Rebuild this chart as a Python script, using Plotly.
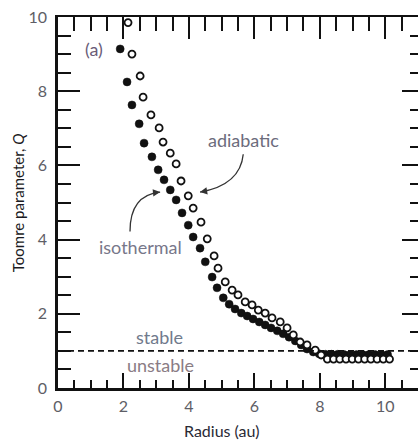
import plotly.graph_objects as go

# Radius (au) and Toomre Q for the isothermal run (filled symbols)
iso_r = [1.90, 2.11, 2.26, 2.48, 2.63, 2.87, 3.06, 3.24, 3.43, 3.61, 3.79, 3.98,
         4.13, 4.34, 4.50, 4.71, 4.86, 5.05, 5.23, 5.41, 5.60, 5.78, 5.96, 6.15,
         6.33, 6.51, 6.70, 6.88, 7.06, 7.25, 7.43, 7.61, 7.80, 7.98, 8.17, 8.36,
         8.55, 8.74, 8.93, 9.12, 9.31, 9.50, 9.69, 9.88, 10.07]
iso_q = [9.14, 8.25, 7.63, 7.12, 6.60, 6.23, 5.88, 5.61, 5.34, 5.07, 4.72, 4.39,
         4.07, 3.77, 3.40, 2.99, 2.70, 2.43, 2.26, 2.13, 2.02, 1.94, 1.86, 1.78,
         1.70, 1.62, 1.54, 1.46, 1.37, 1.27, 1.16, 1.05, 0.97, 0.92, 0.91, 0.91,
         0.91, 0.90, 0.90, 0.90, 0.90, 0.90, 0.90, 0.90, 0.90]

# Radius (au) and Toomre Q for the adiabatic run (open symbols)
adi_r = [2.14, 2.26, 2.51, 2.60, 2.84, 3.09, 3.21, 3.43, 3.61, 3.76, 3.98, 4.13,
         4.37, 4.56, 4.77, 4.89, 5.11, 5.32, 5.50, 5.72, 5.93, 6.12, 6.33, 6.54,
         6.79, 7.00, 7.19, 7.40, 7.61, 7.86, 8.04, 8.23, 8.42, 8.61, 8.80, 8.99,
         9.18, 9.37, 9.56, 9.75, 9.94, 10.13]
adi_q = [9.85, 9.00, 8.41, 7.84, 7.36, 7.01, 6.63, 6.33, 6.04, 5.58, 5.18, 4.85,
         4.47, 4.02, 3.56, 3.23, 2.86, 2.64, 2.51, 2.32, 2.24, 2.10, 2.02, 1.89,
         1.78, 1.62, 1.43, 1.24, 1.16, 1.02, 0.89, 0.78, 0.78, 0.78, 0.78, 0.78,
         0.78, 0.78, 0.78, 0.78, 0.78, 0.78]

q_crit = 1.0
x_range = [0, 11]
y_range = [0, 10]

FONT = "Lato"
GRAY = "#5e5e66"

fig = go.Figure()

fig.add_trace(go.Scatter(
    x=iso_r, y=iso_q, mode="markers", name="isothermal",
    marker=dict(symbol="circle", size=8, color="#111111",
                line=dict(width=0.5, color="#111111")),
))
fig.add_trace(go.Scatter(
    x=adi_r, y=adi_q, mode="markers", name="adiabatic",
    marker=dict(symbol="circle", size=7, color="white",
                line=dict(width=1.8, color="#111111")),
))
# empty trace that carries the mirrored top/right frame axes
fig.add_trace(go.Scatter(x=[], y=[], xaxis="x2", yaxis="y2",
                         showlegend=False, hoverinfo="skip"))

# stability threshold Q = 1
fig.add_shape(type="line", xref="x", yref="y",
              x0=x_range[0], x1=x_range[1], y0=q_crit, y1=q_crit,
              line=dict(color="#111111", width=1.6, dash="6px,4px"))

# curved pointers from the labels to the two curves
arrow_line = dict(color="#333333", width=1.3)
adi_start, adi_ctrl, adi_end = (5.66, 6.30), (5.57, 5.47), (4.34, 5.28)
iso_start, iso_ctrl, iso_end = (2.20, 4.22), (2.20, 5.20), (3.12, 5.28)
for s, c, e in [(adi_start, adi_ctrl, adi_end), (iso_start, iso_ctrl, iso_end)]:
    fig.add_shape(type="path", xref="x", yref="y",
                  path=f"M {s[0]},{s[1]} Q {c[0]},{c[1]} {e[0]},{e[1]}",
                  line=arrow_line)
fig.add_annotation(x=adi_end[0], y=adi_end[1], ax=8, ay=-1.4, text="",
                   showarrow=True, arrowhead=2, arrowsize=1.1, arrowwidth=1.3,
                   arrowcolor="#333333", xref="x", yref="y")
fig.add_annotation(x=iso_end[0], y=iso_end[1], ax=-8, ay=0.8, text="",
                   showarrow=True, arrowhead=2, arrowsize=1.1, arrowwidth=1.3,
                   arrowcolor="#333333", xref="x", yref="y")

labels = [
    ("(a)", 1.10, 9.14, "#6a5c78"),
    ("adiabatic", 5.66, 6.68, "#6c6c7c"),
    ("isothermal", 2.51, 3.80, "#77778a"),
    ("stable", 3.09, 1.37, "#707a8c"),
    ("unstable", 3.12, 0.62, "#8a7c84"),
]
for txt, x, y, col in labels:
    fig.add_annotation(x=x, y=y, xref="x", yref="y", text=txt, showarrow=False,
                       font=dict(family=FONT, size=18, color=col))

# axis titles
fig.add_annotation(x=5.0, y=-0.114, xref="x", yref="paper", text="Radius (au)",
                   showarrow=False, yanchor="middle",
                   font=dict(family=FONT, size=16, color="#2a2a35"))
fig.add_annotation(x=-0.112, y=0.5, xref="paper", yref="paper",
                   text="Toomre parameter, <i>Q</i>", textangle=-90,
                   showarrow=False, xanchor="center",
                   font=dict(family=FONT, size=15, color="#1a1a22"))

tick_font = dict(family=FONT, size=16, color=GRAY)

fig.update_layout(
    width=418, height=441,
    margin=dict(l=58, r=0, t=17, b=53),
    paper_bgcolor="white", plot_bgcolor="white",
    showlegend=False,
    xaxis=dict(range=x_range, dtick=2, tick0=0, ticks="inside", ticklen=15,
               tickwidth=2, tickcolor="#111111", showline=True, linewidth=2.5,
               linecolor="#111111", showgrid=False, zeroline=False,
               tickfont=tick_font, ticklabelstandoff=2,
               minor=dict(dtick=0.5, ticks="inside", ticklen=8, tickwidth=2,
                          tickcolor="#111111", showgrid=False)),
    yaxis=dict(range=y_range, dtick=2, tick0=0, ticks="inside", ticklen=22,
               tickwidth=2, tickcolor="#111111", showline=True, linewidth=2.5,
               linecolor="#111111", showgrid=False, zeroline=False,
               tickfont=tick_font, ticklabelstandoff=5,
               minor=dict(dtick=0.5, ticks="inside", ticklen=13, tickwidth=2,
                          tickcolor="#111111", showgrid=False)),
    xaxis2=dict(range=x_range, overlaying="x", side="top", anchor="y",
                dtick=2, tick0=0, ticks="inside", ticklen=22, tickwidth=2,
                tickcolor="#111111", showline=True, linewidth=2,
                linecolor="#111111", showgrid=False, zeroline=False,
                showticklabels=False,
                minor=dict(dtick=0.5, ticks="inside", ticklen=14, tickwidth=2,
                           tickcolor="#111111", showgrid=False)),
    yaxis2=dict(range=y_range, overlaying="y", side="right", anchor="x",
                dtick=2, tick0=0, ticks="inside", ticklen=16, tickwidth=2,
                tickcolor="#111111", showline=True, linewidth=2,
                linecolor="#111111", showgrid=False, zeroline=False,
                showticklabels=False,
                minor=dict(dtick=0.5, ticks="inside", ticklen=8, tickwidth=2,
                           tickcolor="#111111", showgrid=False)),
)

fig.write_html("out.html")
